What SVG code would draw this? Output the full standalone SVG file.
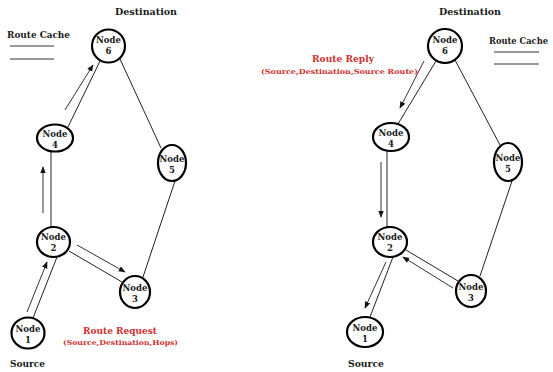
<svg xmlns="http://www.w3.org/2000/svg" width="553" height="372" viewBox="0 0 553 372">
<style>
.n{fill:#fff;stroke:#000;stroke-width:2.2}
.t{font-family:"DejaVu Serif","Liberation Serif",serif;font-weight:bold;fill:#1a1a1a}
.nl{font-size:8.5px;text-anchor:middle}
.lb{font-size:9px}
.red{fill:#d0302f}
.c{stroke:#222;stroke-width:1;fill:none}
.a{stroke:#333;stroke-width:1;fill:none;marker-end:url(#ah)}
.rc{stroke:#333;stroke-width:1}
</style>
<defs>
<marker id="ah" viewBox="0 0 10 10" refX="9" refY="5" markerWidth="7" markerHeight="7" markerUnits="userSpaceOnUse" orient="auto">
<path d="M0,1 L10,5 L0,9 z" fill="#111"/>
</marker>
</defs>
<rect width="553" height="372" fill="#fff"/>
<g id="connectors">
<line class="c" x1="100" y1="61" x2="68" y2="127"/>
<line class="c" x1="120" y1="59" x2="161" y2="148"/>
<line class="c" x1="51" y1="152" x2="51" y2="227"/>
<line class="c" x1="175" y1="181" x2="143" y2="277"/>
<line class="c" x1="69" y1="251" x2="122" y2="282"/>
<line class="c" x1="33" y1="318" x2="57" y2="257"/>
<line class="a" x1="65" y1="110" x2="93" y2="65"/>
<line class="a" x1="43" y1="213" x2="43" y2="167"/>
<line class="a" x1="27" y1="312" x2="47" y2="262"/>
<line class="a" x1="77" y1="245" x2="125" y2="272"/>
<line class="c" x1="436" y1="61" x2="398" y2="124"/>
<line class="c" x1="455" y1="60" x2="500" y2="145"/>
<line class="c" x1="387" y1="151" x2="387" y2="227"/>
<line class="c" x1="512" y1="181" x2="480" y2="276"/>
<line class="c" x1="406" y1="250" x2="458" y2="281"/>
<line class="c" x1="370" y1="317" x2="393" y2="257"/>
<line class="a" x1="424" y1="61" x2="400" y2="108"/>
<line class="a" x1="381" y1="162" x2="381" y2="217"/>
<line class="a" x1="453" y1="288" x2="403" y2="257"/>
<line class="a" x1="386" y1="262" x2="365" y2="308"/>
</g>
<g id="left-labels">
<text class="t lb" x="115" y="15" textLength="62" lengthAdjust="spacingAndGlyphs">Destination</text>
<text class="t lb" x="7" y="38" textLength="63" lengthAdjust="spacingAndGlyphs">Route Cache</text>
<line class="rc" x1="10" y1="46" x2="54" y2="46"/>
<line class="rc" x1="10" y1="59" x2="54" y2="59"/>
<text class="t lb red" x="83" y="334" textLength="74" lengthAdjust="spacingAndGlyphs">Route Request</text>
<text class="t red" x="63" y="345" font-size="7" textLength="115" lengthAdjust="spacingAndGlyphs">(Source,Destination,Hops)</text>
<text class="t lb" x="10" y="367" textLength="35" lengthAdjust="spacingAndGlyphs">Source</text>
</g>
<g id="right-labels">
<text class="t lb" x="439" y="15" textLength="62" lengthAdjust="spacingAndGlyphs">Destination</text>
<text class="t lb" x="489" y="44" textLength="59" lengthAdjust="spacingAndGlyphs">Route Cache</text>
<line class="rc" x1="494" y1="52" x2="539" y2="52"/>
<line class="rc" x1="494" y1="64" x2="539" y2="64"/>
<text class="t lb red" x="312" y="62" textLength="62" lengthAdjust="spacingAndGlyphs">Route Reply</text>
<text class="t red" x="261" y="74" font-size="7" textLength="157" lengthAdjust="spacingAndGlyphs">(Source,Destination,Source Route)</text>
<text class="t lb" x="348" y="367" textLength="36" lengthAdjust="spacingAndGlyphs">Source</text>
</g>
<g id="L1"><ellipse class="n" cx="28" cy="333" rx="16.5" ry="15.5"/><text class="t nl" x="28" y="332">Node</text><text class="t nl" x="28" y="343">1</text></g>
<g id="L2"><ellipse class="n" cx="53.5" cy="242" rx="16.5" ry="15"/><text class="t nl" x="53.5" y="240">Node</text><text class="t nl" x="53.5" y="251">2</text></g>
<g id="L3"><ellipse class="n" cx="135" cy="292" rx="15" ry="16"/><text class="t nl" x="135" y="291">Node</text><text class="t nl" x="135" y="302">3</text></g>
<g id="L4"><ellipse class="n" cx="55" cy="138" rx="18" ry="13.5"/><text class="t nl" x="55" y="137">Node</text><text class="t nl" x="55" y="148">4</text></g>
<g id="L5"><ellipse class="n" cx="172" cy="163" rx="14" ry="18"/><text class="t nl" x="172" y="162">Node</text><text class="t nl" x="172" y="173">5</text></g>
<g id="L6"><ellipse class="n" cx="108.5" cy="46" rx="16.5" ry="16.5"/><text class="t nl" x="108.5" y="43">Node</text><text class="t nl" x="108.5" y="54">6</text></g>
<g id="R1"><ellipse class="n" cx="365" cy="332" rx="18" ry="15"/><text class="t nl" x="365" y="331">Node</text><text class="t nl" x="365" y="342">1</text></g>
<g id="R2"><ellipse class="n" cx="390" cy="242" rx="17" ry="15"/><text class="t nl" x="390" y="240">Node</text><text class="t nl" x="390" y="251">2</text></g>
<g id="R3"><ellipse class="n" cx="471" cy="291" rx="15" ry="16"/><text class="t nl" x="471" y="290">Node</text><text class="t nl" x="471" y="301">3</text></g>
<g id="R4"><ellipse class="n" cx="391" cy="137" rx="18" ry="14"/><text class="t nl" x="391" y="136">Node</text><text class="t nl" x="391" y="147">4</text></g>
<g id="R5"><ellipse class="n" cx="508" cy="162" rx="14" ry="19"/><text class="t nl" x="508" y="161">Node</text><text class="t nl" x="508" y="172">5</text></g>
<g id="R6"><ellipse class="n" cx="445" cy="46" rx="17" ry="17"/><text class="t nl" x="445" y="43">Node</text><text class="t nl" x="445" y="54">6</text></g>
</svg>
